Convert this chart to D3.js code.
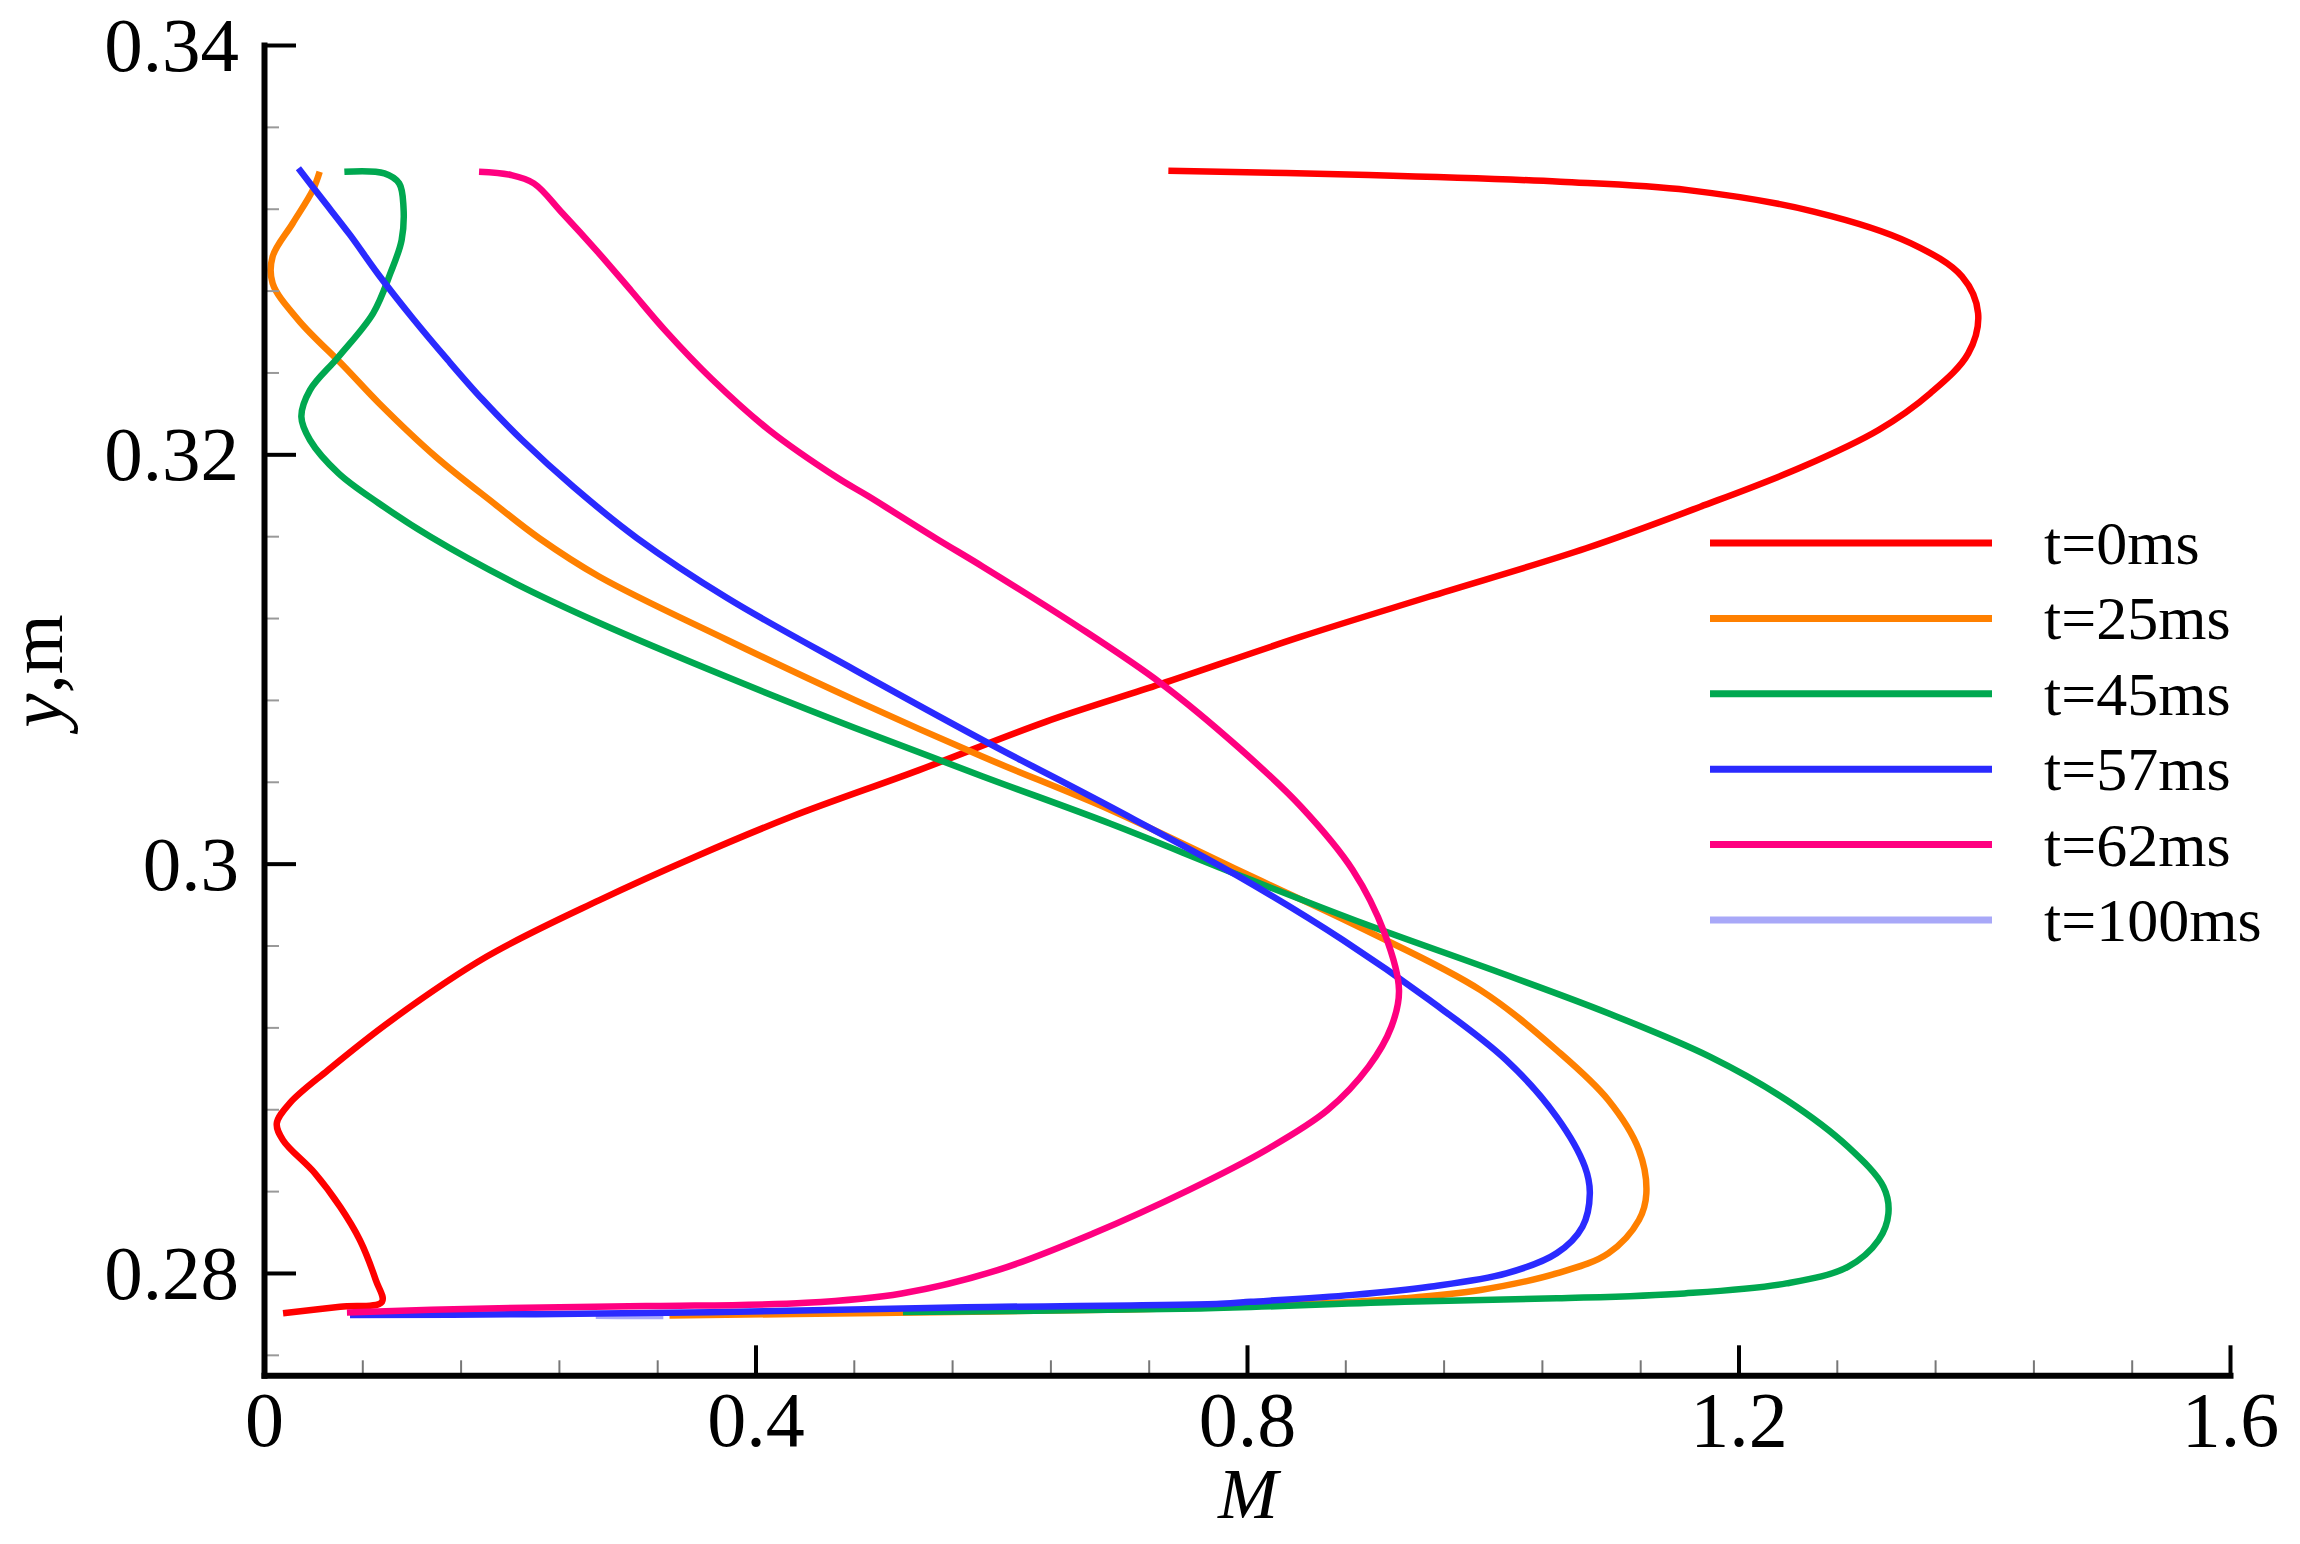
<!DOCTYPE html>
<html><head><meta charset="utf-8">
<script src="https://cdn.jsdelivr.net/npm/d3@7"></script>
<style>html,body{margin:0;padding:0;background:#fff;} svg{display:block;}</style>
</head><body>
<svg id="chart" width="2300" height="1544"></svg>
<script>
// ---- data ----
const seriesNames = ["t=0ms","t=25ms","t=45ms","t=57ms","t=62ms","t=100ms"];
const seriesColors = ["#ff0000","#ff8000","#00a850","#2a2aff","#ff0080","#a8a8f8"];

const m_t0 = [0.736,0.899,1.055,1.159,1.262,1.340,1.382,1.395,1.387,1.356,1.314,1.252,1.169,1.076,0.948,0.844,0.730,0.636,0.533,0.429,0.351,0.273,0.181,0.104,0.052,0.021,0.0104,0.0155,0.0415,0.062,0.078,0.091,0.096,0.062,0.0155];
const y_t0 = [0.33386,0.33365,0.33332,0.33291,0.33185,0.33032,0.32868,0.32689,0.32493,0.32298,0.32119,0.31939,0.31744,0.31541,0.31304,0.31109,0.30878,0.30693,0.30457,0.30229,0.30034,0.29822,0.29545,0.29236,0.28991,0.28830,0.28731,0.28649,0.28487,0.28323,0.28161,0.27965,0.27859,0.27835,0.27803];

const m_t25 = [0.0453,0.0397,0.0234,0.0070,0.0070,0.028,0.0654,0.0934,0.140,0.187,0.224,0.273,0.377,0.481,0.585,0.689,0.7925,0.896,0.990,1.052,1.094,1.119,1.125,1.119,1.094,1.052,0.990,0.928,0.85,0.70,0.50,0.33];
const y_t25 = [0.33381,0.33291,0.33129,0.32966,0.32836,0.32656,0.32428,0.32251,0.31987,0.31761,0.31590,0.31402,0.31093,0.30799,0.30522,0.30262,0.29969,0.29676,0.29382,0.29089,0.28845,0.28600,0.28389,0.28259,0.28096,0.27998,0.27917,0.27876,0.27848,0.27822,0.27805,0.27792];

const m_t45 = [0.0654,0.098,0.110,0.1135,0.112,0.1028,0.0888,0.0607,0.0374,0.0304,0.0374,0.0607,0.0934,0.1355,0.204,0.273,0.377,0.481,0.585,0.689,0.7925,0.896,1.000,1.094,1.177,1.239,1.289,1.318,1.322,1.314,1.289,1.239,1.156,1.052,0.928,0.762,0.52];
const y_t45 = [0.33381,0.33373,0.33324,0.33210,0.33047,0.32884,0.32689,0.32477,0.32314,0.32184,0.32070,0.31907,0.31761,0.31597,0.31371,0.31176,0.30912,0.30663,0.30426,0.30195,0.29946,0.29705,0.29480,0.29269,0.29056,0.28845,0.28617,0.28421,0.28291,0.28161,0.28030,0.27949,0.27900,0.27876,0.27859,0.27827,0.27809];

const m_t57 = [0.028,0.0467,0.070,0.0934,0.1215,0.1495,0.1775,0.210,0.252,0.3035,0.377,0.481,0.585,0.689,0.7925,0.878,0.9486,1.011,1.052,1.075,1.079,1.073,1.052,1.011,0.9486,0.886,0.803,0.7785,0.571,0.363,0.2075,0.07];
const y_t57 = [0.33398,0.33252,0.33072,0.32876,0.32661,0.32461,0.32270,0.32070,0.31840,0.31591,0.31298,0.30946,0.30604,0.30277,0.29940,0.29627,0.29333,0.29040,0.28763,0.28519,0.28389,0.28226,0.28096,0.27998,0.27933,0.27893,0.27859,0.27850,0.27832,0.27808,0.27798,0.27795];

const m_t62 = [0.175,0.2009,0.2196,0.2429,0.271,0.299,0.327,0.3644,0.411,0.467,0.4916,0.5466,0.585,0.6625,0.730,0.7925,0.844,0.886,0.912,0.9237,0.9175,0.899,0.8656,0.8155,0.7525,0.6747,0.597,0.519,0.441,0.311,0.1815,0.0675];
const y_t62 = [0.33381,0.33365,0.33324,0.33178,0.32993,0.32798,0.32602,0.32368,0.32119,0.31884,0.31796,0.31590,0.31451,0.31158,0.30881,0.30571,0.30278,0.29969,0.29659,0.29382,0.29203,0.29008,0.28796,0.28601,0.28405,0.28193,0.28014,0.27900,0.27854,0.27838,0.27827,0.27807];

const m_t100 = [0.27,0.30,0.325];
const y_t100 = [0.27791,0.27790,0.27790];

const xMajorTicks = [0,0.4,0.8,1.2,1.6];
const xTickLabels = ["0","0.4","0.8","1.2","1.6"];
const yMajorTicks = [0.28,0.30,0.32,0.34];
const yTickLabels = ["0.28","0.3","0.32","0.34"];
const xTitle = "M";
const yTitleItalic = "y";
const yTitleRest = ",m";

// ---- chart ----
const svg = d3.select("#chart");
svg.append("rect").attr("width",2300).attr("height",1544).attr("fill","#fff");
const FONT = "'Liberation Serif','Times New Roman',serif";

const x = d3.scaleLinear().domain([0,1.6]).range([264,2230]);
const y = d3.scaleLinear().domain([0.275,0.34]).range([1375.3,45]);

const allM = [m_t0,m_t25,m_t45,m_t57,m_t62,m_t100];
const allY = [y_t0,y_t25,y_t45,y_t57,y_t62,y_t100];

const line = d3.line().x(d=>x(d[0])).y(d=>y(d[1])).curve(d3.curveCatmullRom.alpha(0.5));

const drawOrder = [5,0,1,2,3,4];
const gLines = svg.append("g");
drawOrder.forEach(i=>{
  const pts = allM[i].map((m,k)=>[m, allY[i][k]]);
  gLines.append("path").attr("d", line(pts)).attr("fill","none")
    .attr("stroke", seriesColors[i]).attr("stroke-width",6.5)
    .attr("stroke-linejoin","round").attr("stroke-linecap","butt");
});

// minor ticks
const xMinor = d3.range(0, 1.6001, 0.08).filter(v => !xMajorTicks.some(t => Math.abs(t-v)<1e-6));
const yMinor = d3.range(0.276, 0.3401, 0.004).filter(v => !yMajorTicks.some(t => Math.abs(t-v)<1e-6));

const xMinorAxis = svg.append("g").attr("transform",`translate(0,${y(0.275)})`)
  .call(d3.axisBottom(x).tickValues(xMinor).tickSizeInner(-15).tickSizeOuter(0).tickFormat(""));
xMinorAxis.select(".domain").remove();
xMinorAxis.selectAll("line").attr("stroke","#777").attr("stroke-width",2);

const yMinorAxis = svg.append("g").attr("transform",`translate(${x(0)},0)`)
  .call(d3.axisLeft(y).tickValues(yMinor).tickSizeInner(-15).tickSizeOuter(0).tickFormat(""));
yMinorAxis.select(".domain").remove();
yMinorAxis.selectAll("line").attr("stroke","#999").attr("stroke-width",2);

// major axes
const xAxis = svg.append("g").attr("transform",`translate(0,${y(0.275)})`)
  .call(d3.axisBottom(x).tickValues(xMajorTicks).tickSizeInner(-30).tickSizeOuter(0)
    .tickFormat((d,i)=>xTickLabels[i]));
xAxis.select(".domain").attr("stroke","#000").attr("stroke-width",6);
xAxis.selectAll("line").attr("stroke","#000").attr("stroke-width",4);
xAxis.selectAll("text").attr("y",71).attr("dy",0).attr("fill","#000")
  .style("font-family",FONT).style("font-size","78px");

const yAxis = svg.append("g").attr("transform",`translate(${x(0)},0)`)
  .call(d3.axisLeft(y).tickValues(yMajorTicks).tickSizeInner(-32).tickSizeOuter(0)
    .tickFormat((d,i)=>yTickLabels[i]));
yAxis.select(".domain").attr("stroke","#000").attr("stroke-width",6);
yAxis.selectAll("line").attr("stroke","#000").attr("stroke-width",4);
yAxis.selectAll("text").attr("x",-25).attr("dy","0.33em").attr("fill","#000")
  .style("font-family",FONT).style("font-size","77px");
svg.selectAll(".domain").attr("stroke-linecap","square");

// axis titles
svg.append("text").attr("x",1248).attr("y",1518).attr("text-anchor","middle")
  .style("font-family",FONT).style("font-size","72px").style("font-style","italic").text(xTitle);
const yt = svg.append("text").attr("transform","translate(62,671) rotate(-90)")
  .attr("text-anchor","middle").style("font-family",FONT).style("font-size","77px");
yt.append("tspan").style("font-style","italic").text(yTitleItalic);
yt.append("tspan").text(yTitleRest);

// legend
const legend = svg.append("g");
seriesNames.forEach((name,i)=>{
  const ly = 543 + i*75.4;
  legend.append("line").attr("x1",1710).attr("x2",1992).attr("y1",ly).attr("y2",ly)
    .attr("stroke",seriesColors[i]).attr("stroke-width",7);
  legend.append("text").attr("x",2044).attr("y",ly+21)
    .style("font-family",FONT).style("font-size","62px").text(name);
});
</script>
</body></html>
